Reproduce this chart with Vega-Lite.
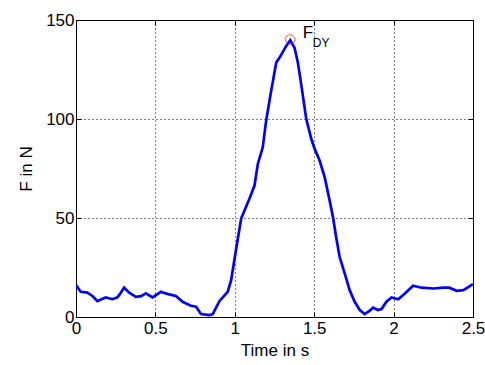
{
  "$schema": "https://vega.github.io/schema/vega-lite/v6.json",
  "width": 397,
  "height": 297,
  "autosize": {"type": "none"},
  "padding": {"left": 76, "top": 20, "right": 12, "bottom": 48},
  "background": "white",
  "config": {
    "view": {"stroke": "black", "strokeWidth": 1},
    "font": "Liberation Sans",
    "axis": {
      "grid": true,
      "gridColor": "black",
      "gridDash": [1, 3],
      "gridOpacity": 1,
      "gridWidth": 1,
      "domain": false,
      "ticks": true,
      "tickSize": -5,
      "tickColor": "black",
      "tickWidth": 1,
      "labelFlush": false,
      "labelOverlap": false,
      "labelFont": "Liberation Sans",
      "labelFontSize": 17,
      "labelColor": "black",
      "titleFont": "Liberation Sans",
      "titleFontSize": 17,
      "titleFontWeight": "normal",
      "titleColor": "black"
    }
  },
  "datasets": {
    "force": [
      {"t": 0, "F": 16.1}, {"t": 0.03, "F": 12.7}, {"t": 0.072, "F": 12.3}, {"t": 0.105, "F": 10.5},
      {"t": 0.135, "F": 8}, {"t": 0.16, "F": 9}, {"t": 0.188, "F": 9.9}, {"t": 0.229, "F": 9},
      {"t": 0.261, "F": 9.9}, {"t": 0.28, "F": 12}, {"t": 0.303, "F": 14.8}, {"t": 0.335, "F": 12.3},
      {"t": 0.377, "F": 10.2}, {"t": 0.41, "F": 10.5}, {"t": 0.44, "F": 11.9}, {"t": 0.482, "F": 9.9},
      {"t": 0.535, "F": 12.7}, {"t": 0.587, "F": 11.4}, {"t": 0.629, "F": 10.6}, {"t": 0.671, "F": 7.7},
      {"t": 0.724, "F": 5.7}, {"t": 0.756, "F": 5.2}, {"t": 0.787, "F": 1.5}, {"t": 0.84, "F": 1},
      {"t": 0.861, "F": 1.5}, {"t": 0.903, "F": 8}, {"t": 0.955, "F": 12.7}, {"t": 0.977, "F": 18.6},
      {"t": 0.997, "F": 28.7}, {"t": 1.018, "F": 39}, {"t": 1.04, "F": 49.7}, {"t": 1.092, "F": 59.7},
      {"t": 1.124, "F": 66.4}, {"t": 1.145, "F": 77.3}, {"t": 1.176, "F": 85.7}, {"t": 1.198, "F": 99.5},
      {"t": 1.229, "F": 114.2}, {"t": 1.261, "F": 128.5}, {"t": 1.282, "F": 131}, {"t": 1.324, "F": 136.9},
      {"t": 1.349, "F": 139.8}, {"t": 1.376, "F": 136}, {"t": 1.397, "F": 128.5}, {"t": 1.418, "F": 117.6},
      {"t": 1.45, "F": 100}, {"t": 1.482, "F": 89.9}, {"t": 1.503, "F": 84.9}, {"t": 1.534, "F": 79},
      {"t": 1.566, "F": 70.6}, {"t": 1.597, "F": 58.9}, {"t": 1.618, "F": 50.5}, {"t": 1.64, "F": 39.5},
      {"t": 1.66, "F": 30.4}, {"t": 1.692, "F": 22}, {"t": 1.723, "F": 13.6}, {"t": 1.755, "F": 7.7},
      {"t": 1.787, "F": 3.5}, {"t": 1.818, "F": 1.5}, {"t": 1.85, "F": 3.2}, {"t": 1.871, "F": 4.7},
      {"t": 1.902, "F": 3.5}, {"t": 1.924, "F": 4}, {"t": 1.955, "F": 7.7}, {"t": 1.987, "F": 9.9},
      {"t": 2.029, "F": 9}, {"t": 2.071, "F": 11.9}, {"t": 2.123, "F": 15.8}, {"t": 2.176, "F": 14.8},
      {"t": 2.25, "F": 14.4}, {"t": 2.313, "F": 14.8}, {"t": 2.35, "F": 14.8}, {"t": 2.397, "F": 13.2},
      {"t": 2.439, "F": 13.6}, {"t": 2.5, "F": 16.6}
    ],
    "peak": [{"t": 1.349, "F": 140.2}],
    "labelMain": [{"t": 1.428, "F": 141.1, "label": "F"}],
    "labelSub": [{"t": 1.491, "F": 136.4, "label": "DY"}]
  },
  "resolve": {"axis": {"x": "independent", "y": "independent"}},
  "layer": [
    {
      "data": {"name": "force"},
      "mark": {"type": "line", "color": "#0000ff", "strokeWidth": 2.7, "clip": true},
      "encoding": {
        "x": {
          "field": "t", "type": "quantitative",
          "scale": {"domain": [0, 2.5], "nice": false, "zero": false},
          "axis": {"title": "Time in s", "values": [0, 0.5, 1, 1.5, 2, 2.5], "format": ".1~f", "labelPadding": 8, "titlePadding": 6}
        },
        "y": {
          "field": "F", "type": "quantitative",
          "scale": {"domain": [0, 150], "nice": false},
          "axis": {"title": "F in N", "values": [0, 50, 100, 150], "format": ".0f", "labelPadding": 7, "titlePadding": 10}
        }
      }
    },
    {
      "data": {"name": "peak"},
      "mark": {"type": "point", "shape": "circle", "filled": false, "color": "#ff0000", "size": 90, "strokeWidth": 1},
      "encoding": {
        "x": {
          "field": "t", "type": "quantitative",
          "axis": {"orient": "top", "labels": false, "title": null, "grid": false, "values": [0, 0.5, 1, 1.5, 2, 2.5]}
        },
        "y": {
          "field": "F", "type": "quantitative",
          "axis": {"orient": "right", "labels": false, "title": null, "grid": false, "values": [0, 50, 100, 150]}
        }
      }
    },
    {
      "data": {"name": "labelMain"},
      "mark": {"type": "text", "align": "left", "baseline": "alphabetic", "fontSize": 17, "font": "Liberation Sans", "color": "black"},
      "encoding": {
        "x": {"field": "t", "type": "quantitative", "axis": null},
        "y": {"field": "F", "type": "quantitative", "axis": null},
        "text": {"field": "label"}
      }
    },
    {
      "data": {"name": "labelSub"},
      "mark": {"type": "text", "align": "left", "baseline": "alphabetic", "fontSize": 12, "font": "Liberation Sans", "color": "black"},
      "encoding": {
        "x": {"field": "t", "type": "quantitative", "axis": null},
        "y": {"field": "F", "type": "quantitative", "axis": null},
        "text": {"field": "label"}
      }
    }
  ]
}
